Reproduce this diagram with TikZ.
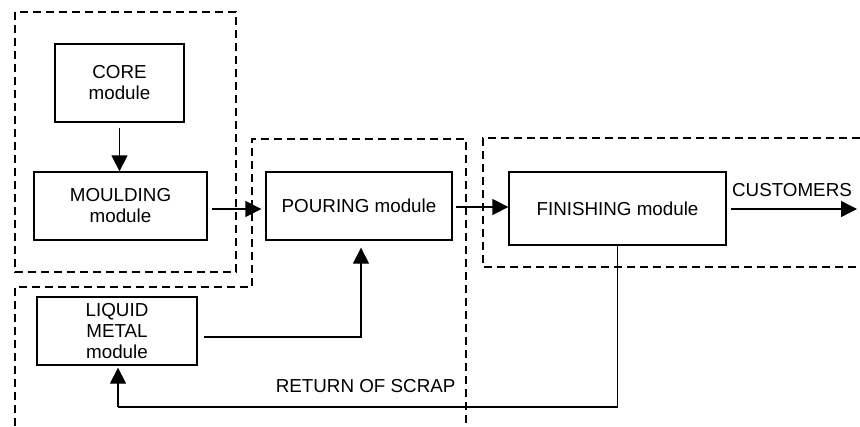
\documentclass[tikz,border=0pt]{standalone}
\usepackage{fontspec}
\setmainfont{Liberation Sans}
\usetikzlibrary{arrows.meta}
\begin{document}
\begin{tikzpicture}[x=1pt,y=-1pt,
  every node/.style={font=\fontsize{18.8}{21}\selectfont},
  module/.style={draw,line width=1.3pt,align=center,inner sep=0pt},
  arr/.style={line width=1.3pt,-{Triangle[length=16pt,width=16pt]}},
  plain/.style={line width=1.3pt},
  zone/.style={line width=1.3pt,dash pattern=on 8pt off 5pt}]
\useasboundingbox (0,0) rectangle (860,426);

% module boundaries
\draw[zone] (15,12) rectangle (236,272);
\draw[zone] (15,426) -- (15,287) -- (252,287) -- (252,139) -- (466,139) -- (466,426);
\draw[zone] (860,138) -- (483,138) -- (483,267) -- (860,267);

% modules
\node[module,minimum width=129pt,minimum height=78pt] (core) at (119.5,83) {CORE\\module};
\node[module,minimum width=173pt,minimum height=68pt] (moulding) at (120.5,206) {MOULDING\\module};
\node[module,minimum width=186pt,minimum height=68pt] (pouring) at (359,206) {POURING module};
\node[module,minimum width=217pt,minimum height=73pt] (finishing) at (617.5,208.5) {FINISHING module};
\node[module,minimum width=160pt,minimum height=68pt] (liquid) at (117,331) {LIQUID\\METAL\\module};

% flows
\draw[arr] ([yshift=-5pt]core.south) -- (core.south |- moulding.north);
\draw[arr] ([xshift=4pt,yshift=-3pt]moulding.east) -- ([xshift=-4pt,yshift=-3pt]pouring.west);
\draw[arr] ([xshift=3pt,yshift=-1pt]pouring.east) -- ([yshift=1.5pt]finishing.west);
\coordinate (out) at (857,209);
\draw[arr] ([xshift=4pt]finishing.east |- out) -- (out);
\node (cust) at (792,190) {CUSTOMERS};
\draw[arr] ([xshift=6pt,yshift=-6pt]liquid.east) -| ([xshift=2pt,yshift=-7pt]pouring.south);

% scrap return
\coordinate (ret) at (618,407);
\draw[plain] (finishing.south) -- (finishing.south |- ret) -- ([xshift=1pt]liquid.south |- ret);
\draw[arr] ([xshift=1pt]liquid.south |- ret) -- ([xshift=1pt,yshift=-2pt]liquid.south);
\node[anchor=east] (scrap) at (459,386) {RETURN OF SCRAP};
\end{tikzpicture}
\end{document}
